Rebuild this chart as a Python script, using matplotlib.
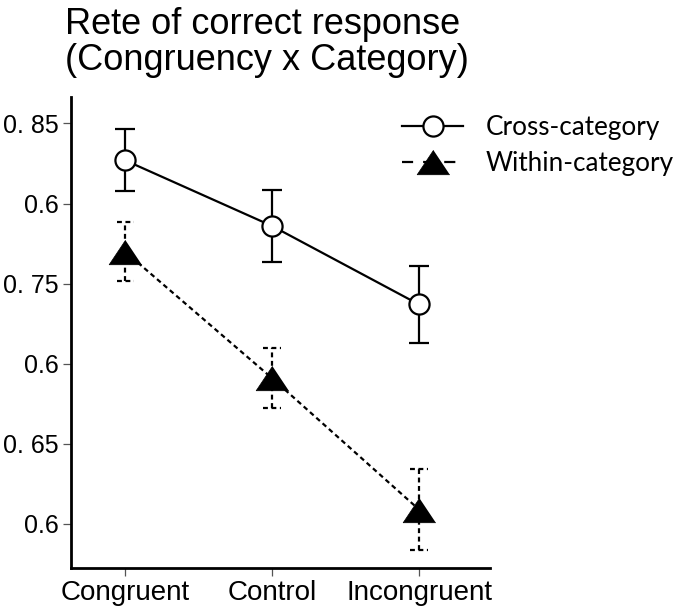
import matplotlib
matplotlib.use("Agg")
import matplotlib.pyplot as plt
from matplotlib.lines import Line2D
import numpy as np

# ---- data ----
categories = ["Congruent", "Control", "Incongruent"]
cross_mean = [0.827, 0.786, 0.737]
cross_err = [0.0193, 0.0227, 0.0241]
within_mean = [0.770, 0.691, 0.609]
within_err = [0.0183, 0.0187, 0.0253]
ytick_values = [0.85, 0.80, 0.75, 0.70, 0.65, 0.60]
ytick_labels = ["0. 85", "0.6", "0. 75", "0.6", "0. 65", "0.6"]
title_lines = ["Rete of correct response", "(Congruency x Category)"]
legend_labels = ["Cross-category", "Within-category"]

W, H = 675, 611
fig = plt.figure(figsize=(W / 100, H / 100), dpi=100)
ax = fig.add_axes([70.5 / W, (H - 568) / H, (490 - 70.5) / W, (568 - 97) / H])

x = np.arange(len(categories))
dotted = (0, (2.2, 1.6))
tri = [(0, 0.75), (-1, -0.75), (1, -0.75)]

# cross-category
ax.errorbar(x, cross_mean, yerr=cross_err, fmt="none", ecolor="black",
            elinewidth=1.6, capsize=7.2, capthick=1.6, zorder=2)
ax.plot(x, cross_mean, color="black", lw=1.6, marker="o", ms=14.5,
        mfc="white", mec="black", mew=1.6, zorder=3)

# within-category (dotted error bars)
wm = np.array(within_mean)
we = np.array(within_err)
ax.vlines(x, wm - we, wm + we, colors="black", lw=1.6, linestyles=[dotted], zorder=2)
cap = 0.058
ax.hlines(wm + we, x - cap, x + cap, colors="black", lw=1.6, linestyles=[dotted], zorder=2)
ax.hlines(wm - we, x - cap, x + cap, colors="black", lw=1.6, linestyles=[dotted], zorder=2)
ax.plot(x, within_mean, color="black", lw=1.6, ls=dotted, marker=tri, ms=23.5,
        mfc="black", mec="black", mew=0.5, zorder=3)

ax.set_xlim(-0.371, 2.483)
ax.set_ylim(0.5725, 0.8665)
ax.set_xticks(x)
ax.set_xticklabels(categories, fontsize=20, family="Liberation Sans")
ax.set_yticks(ytick_values)
ax.set_yticklabels(ytick_labels, fontsize=18, family="Liberation Sans")
ax.tick_params(axis="both", length=6, width=0.9, color="#555555", pad=2.5)
for s in ["top", "right"]:
    ax.spines[s].set_visible(False)
for s in ["left", "bottom"]:
    ax.spines[s].set_linewidth(2.0)

# title
fig.text(65 / W, 1 - 33.5 / H, title_lines[0], fontsize=26, family="Liberation Sans",
         ha="left", va="baseline")
fig.text(65 / W, 1 - 70 / H, title_lines[1], fontsize=26, family="Liberation Sans",
         ha="left", va="baseline")

# legend
h1 = Line2D([], [], color="black", lw=1.6, marker="o", ms=14.5, mfc="white",
            mec="black", mew=1.6)
h2 = Line2D([], [], color="black", lw=1.6, ls=(0, (5, 4.5)), marker=tri, ms=23.5,
            mfc="black", mec="black", mew=0.5)
leg = ax.legend([h1, h2], legend_labels, loc="upper left",
                bbox_to_anchor=(402 / W, 1 - 115 / H), bbox_transform=fig.transFigure,
                frameon=False, borderpad=0, borderaxespad=0, handlelength=2.35,
                handletextpad=0.85, labelspacing=0.42,
                prop={"family": "Lato", "size": 18.8})

fig.savefig("out.png", dpi=100)
